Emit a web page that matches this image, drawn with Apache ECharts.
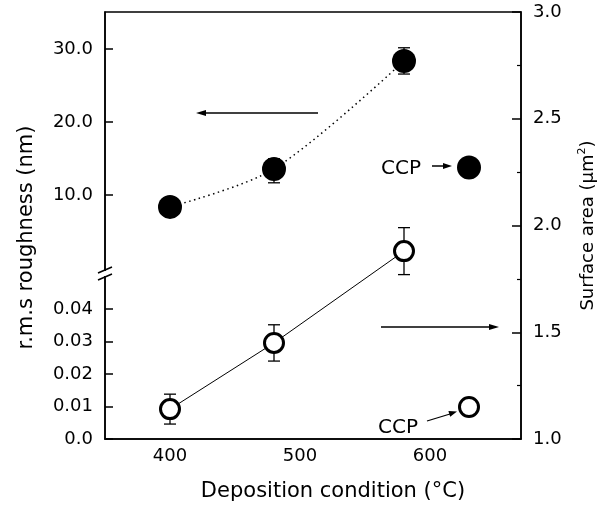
<!DOCTYPE html>
<html>
<head>
<meta charset="utf-8">
<title>Roughness and surface area</title>
<script src="https://cdn.jsdelivr.net/npm/echarts@6/dist/echarts.min.js"></script>
<style>
    html, body { margin: 0; padding: 0; background: #fff; }
    #chart { width: 607px; height: 510px; }
</style>
</head>
<body>
<div id="chart"></div>
<script>
// deposition temperature (°C)
var temps = [400, 480, 580];
var ccpTemp = 630;

// r.m.s roughness (nm) - filled circles, left axis
var roughness = [8.4, 13.6, 28.4];
var roughnessErrLow = [0, 1.9, 1.8];
var roughnessErrHigh = [0, 1.4, 1.8];
var ccpRoughness = 13.8;

// surface area (um^2) - open circles, right axis
var area = [1.14, 1.45, 1.88];
var areaErr = [0.07, 0.085, 0.11];
var ccpArea = 1.15;

// tick labels
var xTicks = [400, 500, 600];
var upperTicks = [10, 20, 30];
var lowerTicks = [0, 0.01, 0.02, 0.03, 0.04];

var FONT = 'DejaVu Sans';

function pairs(xs, ys) {
    return xs.map(function (x, i) { return [x, ys[i]]; });
}

function errorData(vals, lows, highs) {
    var out = [];
    temps.forEach(function (t, i) {
        if (lows[i] > 0 || highs[i] > 0) out.push([t, vals[i] - lows[i], vals[i] + highs[i]]);
    });
    return out;
}

function renderBar(params, api) {
    var x = api.value(0);
    var lo = api.coord([x, api.value(1)]);
    var hi = api.coord([x, api.value(2)]);
    var w = 6;
    var st = { stroke: '#000', lineWidth: 1.3 };
    return {
        type: 'group',
        children: [
            { type: 'line', shape: { x1: lo[0], y1: lo[1], x2: hi[0], y2: hi[1] }, style: st },
            { type: 'line', shape: { x1: lo[0] - w, y1: lo[1], x2: lo[0] + w, y2: lo[1] }, style: st },
            { type: 'line', shape: { x1: hi[0] - w, y1: hi[1], x2: hi[0] + w, y2: hi[1] }, style: st }
        ]
    };
}

var labelStyle = { color: '#000', fontSize: 18, fontFamily: FONT };
var blackLine = { color: '#000', width: 1.5 };

var chart = echarts.init(document.getElementById('chart'));

chart.setOption({
    animation: false,
    backgroundColor: '#fff',
    grid: {
        left: 105, right: 86, top: 12, bottom: 71,
        show: true, borderColor: '#000', borderWidth: 1.5,
        outerBoundsMode: 'none'
    },
    xAxis: {
        type: 'value',
        min: 350, max: 670,
        axisLine: { onZero: false, lineStyle: blackLine },
        axisTick: { show: false },
        splitLine: { show: false },
        axisLabel: Object.assign({ customValues: xTicks, margin: 8 }, labelStyle),
        name: 'Deposition condition (°C)',
        nameLocation: 'middle',
        nameGap: 42,
        nameTextStyle: { color: '#000', fontSize: 21, fontFamily: FONT, padding: [0, 0, 0, 40] }
    },
    yAxis: [
        {
            // upper part of the broken left axis (nm)
            type: 'value',
            position: 'left',
            min: -23.4, max: 35.1,
            axisLine: { show: true, onZero: false, lineStyle: blackLine },
            axisTick: { inside: true, length: 8, customValues: upperTicks, lineStyle: blackLine },
            splitLine: { show: false },
            axisLabel: Object.assign({
                customValues: upperTicks, margin: 12,
                formatter: function (v) { return v.toFixed(1); }
            }, labelStyle),
            name: 'r.m.s roughness (nm)',
            nameLocation: 'middle',
            nameRotate: 90,
            nameGap: 68,
            nameTextStyle: { color: '#000', fontSize: 21, fontFamily: FONT, padding: [0, 24, 0, 0] }
        },
        {
            // lower part of the broken left axis
            type: 'value',
            position: 'left',
            min: 0, max: 0.1314,
            axisLine: { show: false },
            axisTick: { inside: true, length: 8, customValues: lowerTicks, lineStyle: blackLine },
            splitLine: { show: false },
            axisLabel: Object.assign({
                customValues: lowerTicks, margin: 12,
                formatter: function (v) { return v === 0 ? '0.0' : v.toFixed(2); }
            }, labelStyle)
        },
        {
            type: 'value',
            position: 'right',
            min: 1, max: 3, interval: 0.5,
            axisLine: { show: true, onZero: false, lineStyle: blackLine },
            axisTick: { inside: true, length: 9, lineStyle: blackLine },
            minorTick: { show: true, splitNumber: 2, length: 4, lineStyle: { color: '#000', width: 1.2 } },
            splitLine: { show: false },
            minorSplitLine: { show: false },
            axisLabel: Object.assign({
                margin: 12,
                formatter: function (v) { return v.toFixed(1); }
            }, labelStyle),
            name: 'Surface area (μm{sup|2})',
            nameLocation: 'middle',
            nameRotate: 90,
            nameGap: 56,
            nameTextStyle: {
                color: '#000', fontSize: 18, fontFamily: FONT, lineHeight: 22,
                rich: { sup: { fontSize: 11, fontFamily: FONT, color: '#000', verticalAlign: 'top', lineHeight: 22 } }
            }
        }
    ],
    series: [
        {
            type: 'custom',
            yAxisIndex: 0,
            renderItem: renderBar,
            encode: { x: 0, y: [1, 2] },
            data: errorData(roughness, roughnessErrLow, roughnessErrHigh),
            z: 1
        },
        {
            type: 'custom',
            yAxisIndex: 2,
            renderItem: renderBar,
            encode: { x: 0, y: [1, 2] },
            data: errorData(area, areaErr, areaErr),
            z: 1
        },
        {
            name: 'roughness',
            type: 'line',
            yAxisIndex: 0,
            data: pairs(temps, roughness),
            smooth: 0.3,
            symbol: 'circle',
            symbolSize: 24,
            itemStyle: { color: '#000', opacity: 1 },
            lineStyle: { color: '#000', width: 1.5, type: [1.5, 3.5] },
            z: 5
        },
        {
            name: 'roughness CCP',
            type: 'scatter',
            yAxisIndex: 0,
            data: [[ccpTemp, ccpRoughness]],
            symbol: 'circle',
            symbolSize: 24,
            itemStyle: { color: '#000', opacity: 1 },
            z: 5
        },
        {
            name: 'surface area',
            type: 'line',
            yAxisIndex: 2,
            data: pairs(temps, area),
            symbol: 'circle',
            symbolSize: 19,
            itemStyle: { color: '#fff', borderColor: '#000', borderWidth: 3, opacity: 1 },
            lineStyle: { color: '#000', width: 1 },
            z: 5
        },
        {
            name: 'surface area CCP',
            type: 'scatter',
            yAxisIndex: 2,
            data: [[ccpTemp, ccpArea]],
            symbol: 'circle',
            symbolSize: 19,
            itemStyle: { color: '#fff', borderColor: '#000', borderWidth: 3, opacity: 1 },
            z: 5
        }
    ],
    graphic: [
        // axis break marks
        { type: 'rect', shape: { x: 101, y: 271, width: 8, height: 5 }, style: { fill: '#fff' }, z: 100 },
        { type: 'line', shape: { x1: 98, y1: 273, x2: 112, y2: 267 }, style: { stroke: '#000', lineWidth: 1.5 }, z: 101 },
        { type: 'line', shape: { x1: 98, y1: 280, x2: 112, y2: 274 }, style: { stroke: '#000', lineWidth: 1.5 }, z: 101 },
        // arrow to left axis
        { type: 'line', shape: { x1: 318, y1: 113, x2: 203, y2: 113 }, style: { stroke: '#000', lineWidth: 1.5 }, z: 50 },
        { type: 'polygon', shape: { points: [[196, 113], [206, 110], [206, 116]] }, style: { fill: '#000' }, z: 50 },
        // arrow to right axis
        { type: 'line', shape: { x1: 381, y1: 327, x2: 492, y2: 327 }, style: { stroke: '#000', lineWidth: 1.5 }, z: 50 },
        { type: 'polygon', shape: { points: [[499, 327], [489, 324], [489, 330]] }, style: { fill: '#000' }, z: 50 },
        // CCP labels
        { type: 'text', x: 381, y: 169, style: { text: 'CCP', font: '20px "DejaVu Sans"', fill: '#000', verticalAlign: 'middle' }, z: 50 },
        { type: 'line', shape: { x1: 432, y1: 166, x2: 446, y2: 166 }, style: { stroke: '#000', lineWidth: 1.5 }, z: 50 },
        { type: 'polygon', shape: { points: [[452, 166], [443, 163], [443, 169]] }, style: { fill: '#000' }, z: 50 },
        { type: 'text', x: 378, y: 428, style: { text: 'CCP', font: '20px "DejaVu Sans"', fill: '#000', verticalAlign: 'middle' }, z: 50 },
        { type: 'line', shape: { x1: 427, y1: 421, x2: 450, y2: 414 }, style: { stroke: '#000', lineWidth: 1.3 }, z: 50 },
        { type: 'polygon', shape: { points: [[457, 411.5], [450.2, 416.7], [448.4, 410.9]] }, style: { fill: '#000' }, z: 50 }
    ]
});
</script>
</body>
</html>
